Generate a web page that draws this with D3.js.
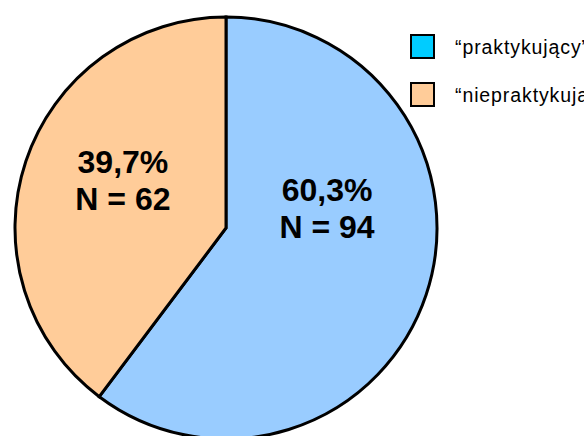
<!DOCTYPE html>
<html>
<head>
<meta charset="utf-8">
<script src="https://cdn.jsdelivr.net/npm/d3@7"></script>
<style>
  html, body { margin: 0; padding: 0; background: #fff; overflow: hidden; }
  svg { display: block; font-family: Arial, "Liberation Sans", sans-serif; }
</style>
</head>
<body>
<svg id="chart" width="584" height="436"></svg>
<script>
// Respondents by practice status
const categories = ["\u201Cpraktykujący\u201D", "\u201Cniepraktykujący\u201D"];
const counts = [94, 62];
const percentLabels = ["60,3%", "39,7%"];
const sliceColors = ["#99CCFF", "#FFCC99"];
const legendColors = ["#00CCFF", "#FFCC99"];

const svg = d3.select("#chart");
const cx = 226, cy = 228, radius = 211;

const data = categories.map((c, i) => ({ category: c, count: counts[i], pct: percentLabels[i] }));

const pie = d3.pie().sort(null).value(d => d.count);
const arc = d3.arc().innerRadius(0).outerRadius(radius);
const arcs = pie(data);

const g = svg.append("g").attr("transform", `translate(${cx},${cy})`);

g.selectAll("path.slice")
  .data(arcs)
  .join("path")
  .attr("class", "slice")
  .attr("d", arc)
  .attr("fill", (d, i) => sliceColors[i])
  .attr("stroke", "#000")
  .attr("stroke-width", 3)
  .attr("stroke-linejoin", "miter");

// Label anchors, offset from the slice centroid
const labelOffsets = [[-9, -64], [7, -18]];
const labelArc = d3.arc().innerRadius(radius * 0.55).outerRadius(radius * 0.55);
arcs.forEach((d, i) => {
  const [x, y] = labelArc.centroid(d);
  const lx = x + labelOffsets[i][0], ly = y + labelOffsets[i][1];
  const t = g.append("text")
    .attr("text-anchor", "middle")
    .attr("font-weight", "bold")
    .attr("font-size", 32)
    .attr("fill", "#000");
  t.append("tspan").attr("x", lx).attr("y", ly).text(d.data.pct);
  t.append("tspan").attr("x", lx).attr("y", ly + 37).text(`N = ${d.data.count}`);
});

// Legend
const legend = svg.append("g").attr("transform", "translate(411,35)");
const items = legend.selectAll("g.item")
  .data(data)
  .join("g")
  .attr("class", "item")
  .attr("transform", (d, i) => `translate(0,${i * 48})`);
items.append("rect")
  .attr("width", 23).attr("height", 23)
  .attr("fill", (d, i) => legendColors[i])
  .attr("stroke", "#000").attr("stroke-width", 2);
items.append("text")
  .attr("x", 44).attr("y", 19)
  .attr("font-size", 19.5)
  .attr("letter-spacing", 0.9)
  .attr("fill", "#000")
  .text(d => d.category);
</script>
</body>
</html>
